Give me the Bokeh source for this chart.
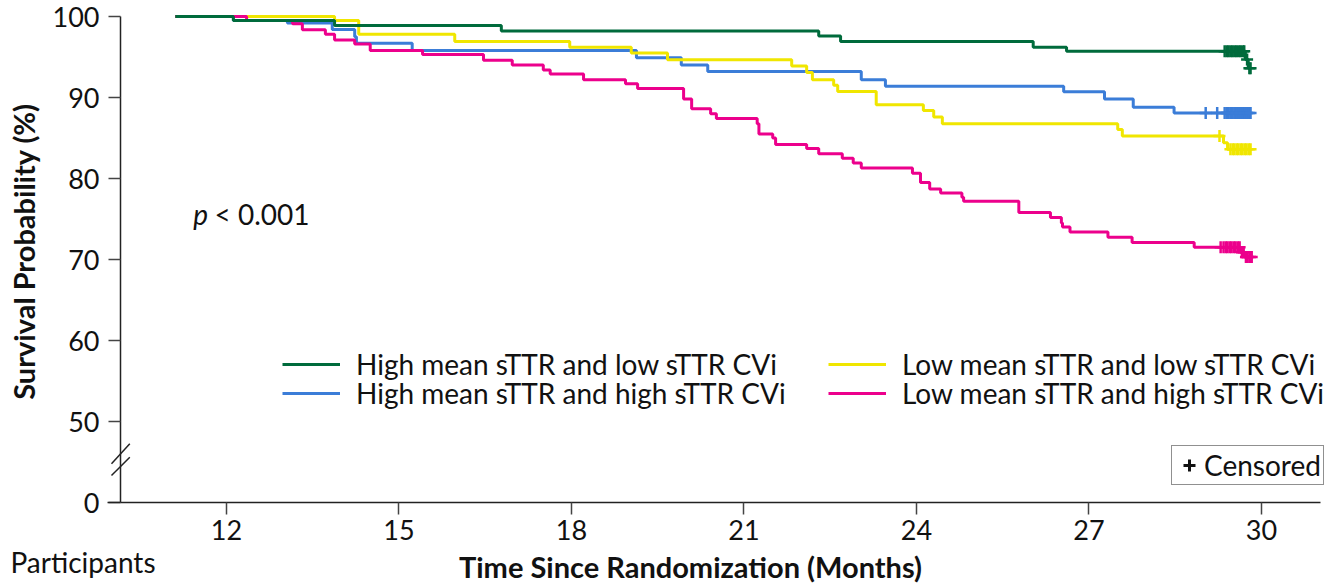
from bokeh.plotting import figure
from bokeh.models import FixedTicker, Legend, LegendItem, Range1d
from bokeh.core.properties import value
from bokeh.embed import file_html
from bokeh.resources import INLINE

FONT = "Lato"

# Kaplan-Meier estimates per group: event times (months) and survival (%)
hi_lo_time = [11.11, 12.12, 13.88, 16.78, 22.30, 22.68, 26.03, 26.61, 29.72, 29.77]
hi_lo_surv = [100.0, 99.5, 98.9, 98.2, 97.6, 96.9, 96.2, 95.7, 94.7, 93.6]
hi_lo_cens = [29.36, 29.40, 29.43, 29.47, 29.50, 29.54, 29.57, 29.61, 29.64,
              29.68, 29.70, 29.75, 29.79, 29.81]

hi_hi_time = [11.11, 12.12, 13.06, 13.84, 14.23, 14.26, 15.23, 19.13, 19.91,
              20.37, 23.04, 23.46, 26.56, 27.27, 27.77, 28.48]
hi_hi_surv = [100.0, 99.5, 99.2, 98.4, 97.5, 96.7, 95.8, 94.9, 94.0,
              93.2, 92.2, 91.4, 90.7, 89.8, 88.8, 88.1]
hi_hi_cens = [29.03, 29.23, 29.36, 29.40, 29.43, 29.47, 29.50, 29.54, 29.57,
              29.61, 29.64, 29.68, 29.71, 29.75, 29.78, 29.81]

lo_lo_time = [11.11, 13.88, 14.30, 15.97, 17.97, 19.04, 19.67, 21.83, 22.09,
              22.19, 22.56, 22.63, 23.30, 24.12, 24.30, 24.45, 27.50, 27.58,
              29.34, 29.41]
lo_lo_surv = [100.0, 99.5, 97.8, 96.9, 96.2, 95.5, 94.65, 93.9, 93.1,
              92.2, 91.5, 90.75, 89.1, 88.4, 87.6, 86.75, 86.05, 85.25,
              84.4, 83.6]
lo_lo_cens = [29.27, 29.46, 29.50, 29.53, 29.57, 29.60, 29.64, 29.67, 29.71,
              29.74, 29.78, 29.81]

lo_hi_time = [11.11, 12.35, 13.15, 13.32, 13.72, 13.88, 14.23, 14.50, 15.41,
              16.47, 16.97, 17.51, 17.63, 18.21, 18.94, 19.15, 19.95, 20.09,
              20.42, 20.52, 21.23, 21.26, 21.50, 21.55, 22.09, 22.30, 22.71,
              22.90, 23.04, 23.93, 24.07, 24.23, 24.42, 24.79, 24.82, 25.78,
              26.33, 26.52, 26.54, 26.67, 27.33, 27.75, 28.83, 29.63, 29.71]
lo_hi_surv = [100.0, 99.5, 99.1, 98.35, 97.8, 97.1, 96.6, 95.8, 95.3,
              94.6, 94.0, 93.4, 92.9, 92.2, 91.7, 91.1, 89.8, 88.6,
              88.0, 87.4, 86.75, 85.5, 85.0, 84.2, 83.7, 83.05, 82.5,
              81.9, 81.3, 80.65, 79.5, 78.7, 78.2, 77.7, 77.2, 75.8,
              75.2, 74.5, 74.0, 73.4, 72.75, 72.1, 71.5, 70.9, 70.3]
lo_hi_cens = [29.29, 29.34, 29.38, 29.41, 29.45, 29.48, 29.52, 29.55, 29.59,
              29.62, 29.66, 29.69, 29.73, 29.76, 29.80, 29.83]

group_names = ["High mean sTTR and low sTTR CVi",
               "High mean sTTR and high sTTR CVi",
               "Low mean sTTR and low sTTR CVi",
               "Low mean sTTR and high sTTR CVi"]
group_colors = ["#006b3c", "#3b7dd8", "#f0e600", "#ec008c"]

x_ticks = [12, 15, 18, 21, 24, 27, 30]
y_ticks = [40, 50, 60, 70, 80, 90, 100]
y_tick_text = {40: "0"}   # broken axis: the segment below 50 stands for 0

# plot geometry
PX_X, PX_Y = 57.5, 8.1           # pixels per month / per percent
LEFT, TOP, FRAME_H = 120, 0, 502
X0 = 10.157
INK = "#111111"


def dx(px):
    return X0 + (px - LEFT) / PX_X


def dy(py):
    return 100 - (py - 16) / PX_Y


X1 = dx(1336)          # frame runs to the right edge so the keys are not clipped
X_AXIS_END = dx(1320)  # the drawn x axis stops a little short of it
Y0, Y1 = 40.0, dy(0)


def surv_at(times, survs, t):
    s = survs[0]
    for ti, si in zip(times, survs):
        if ti <= t:
            s = si
    return s


p = figure(width=1336, height=586, x_range=Range1d(X0, X1), y_range=Range1d(Y0, Y1),
           output_backend="svg", toolbar_location=None,
           min_border_left=LEFT, min_border_right=0, min_border_top=TOP,
           min_border_bottom=84, background_fill_color="white",
           border_fill_color="white")
p.outline_line_color = None
p.grid.visible = False

series = [
    (hi_lo_time, hi_lo_surv, hi_lo_cens),
    (hi_hi_time, hi_hi_surv, hi_hi_cens),
    (lo_lo_time, lo_lo_surv, lo_lo_cens),
    (lo_hi_time, lo_hi_surv, lo_hi_cens),
]

renderers = {}
for idx in [1, 2, 3, 0]:
    times, survs, cens = series[idx]
    end = max(cens)
    xs = list(times) + [end]
    ys = list(survs) + [survs[-1]]
    r = p.step(xs, ys, mode="after", line_color=group_colors[idx], line_width=3)
    renderers[idx] = r
    cy = [surv_at(times, survs, t) for t in cens]
    p.scatter(cens, cy, marker="cross", size=12, line_width=2.5,
              line_color=group_colors[idx])

# axes
for ax in (p.xaxis[0], p.yaxis[0]):
    ax.axis_line_width = 1.5
    ax.axis_line_color = "#222222"
    ax.major_tick_line_color = "#444444"
    ax.major_tick_line_width = 1.5
    ax.major_tick_out = 12
    ax.major_tick_in = 0
    ax.minor_tick_line_color = None
    ax.major_label_text_font = FONT
    ax.major_label_text_font_size = "27px"
    ax.major_label_text_color = INK

p.xaxis.ticker = FixedTicker(ticks=x_ticks)
p.xaxis.bounds = (X0, X_AXIS_END)
p.xaxis.major_label_standoff = 5
p.yaxis.ticker = FixedTicker(ticks=y_ticks)
p.yaxis.major_label_overrides = y_tick_text
p.yaxis.bounds = (40, 100)
p.yaxis.major_label_standoff = 9
p.yaxis.axis_label = "Survival Probability (%)"
p.yaxis.axis_label_text_font = FONT
p.yaxis.axis_label_text_font_size = "29px"
p.yaxis.axis_label_text_font_style = "bold"
p.yaxis.axis_label_text_color = INK
p.yaxis.axis_label_standoff = 9

# axis break marks and the short stub of the x axis left of the y axis
p.segment(x0=[dx(111), dx(111), dx(107)], y0=[dy(463.3), dy(475.0), 40],
          x1=[dx(129.3), dx(129.3), X0], y1=[dy(443.3), dy(456.7), 40],
          line_color="#222222", line_width=1.5, level="overlay")

# free-standing texts
p.text(x=[dx(690)], y=[dy(566)], text=["Time Since Randomization (Months)"],
       text_align="center", text_baseline="middle", text_font=value(FONT),
       text_font_size="29px", text_font_style="bold", text_color=INK,
       level="overlay")
p.text(x=[dx(10)], y=[dy(561)], text=["Participants"], text_align="left",
       text_baseline="middle", text_font=value(FONT), text_font_size="28px",
       text_color=INK, level="overlay")
p.text(x=[dx(207.5)], y=[dy(213)], text=["p"], text_align="right",
       text_baseline="alphabetic", text_font=value(FONT), text_font_size="28px",
       text_font_style="italic", text_color=INK, level="overlay")
p.text(x=[dx(214)], y=[dy(213)], text=["< 0.001"], text_align="left",
       text_baseline="alphabetic", text_font=value(FONT), text_font_size="28px",
       text_color=INK, level="overlay")

# legend: one entry per slot, two columns of two rows
ROW_H = 34
legend_slots = [(162, 364), (162, 393), (708, 364), (708, 393)]
for idx, (vx, cy) in enumerate(legend_slots):
    p.add_layout(Legend(
        items=[LegendItem(label=group_names[idx], renderers=[renderers[idx]])],
        location=(vx, FRAME_H - (cy + ROW_H / 2)), orientation="vertical",
        padding=0, margin=0, spacing=0, glyph_width=58, glyph_height=ROW_H,
        label_height=ROW_H, label_standoff=16,
        label_text_font=FONT, label_text_font_size="28px",
        label_text_color=INK, border_line_color=None, background_fill_alpha=0))

# censoring key
cens_key = p.scatter([0], [0], marker="cross", line_color=INK, line_width=3)
p.add_layout(Legend(items=[LegendItem(label="Censored", renderers=[cens_key])],
                    location=(1051, 17), padding=2, margin=0, spacing=0,
                    glyph_width=30, glyph_height=30, label_standoff=0,
                    label_text_font=FONT, label_text_font_size="28px",
                    label_text_color=INK, border_line_color="#222222",
                    border_line_width=1.5, background_fill_color="white"))

open("out.html", "w").write(file_html(p, INLINE))
